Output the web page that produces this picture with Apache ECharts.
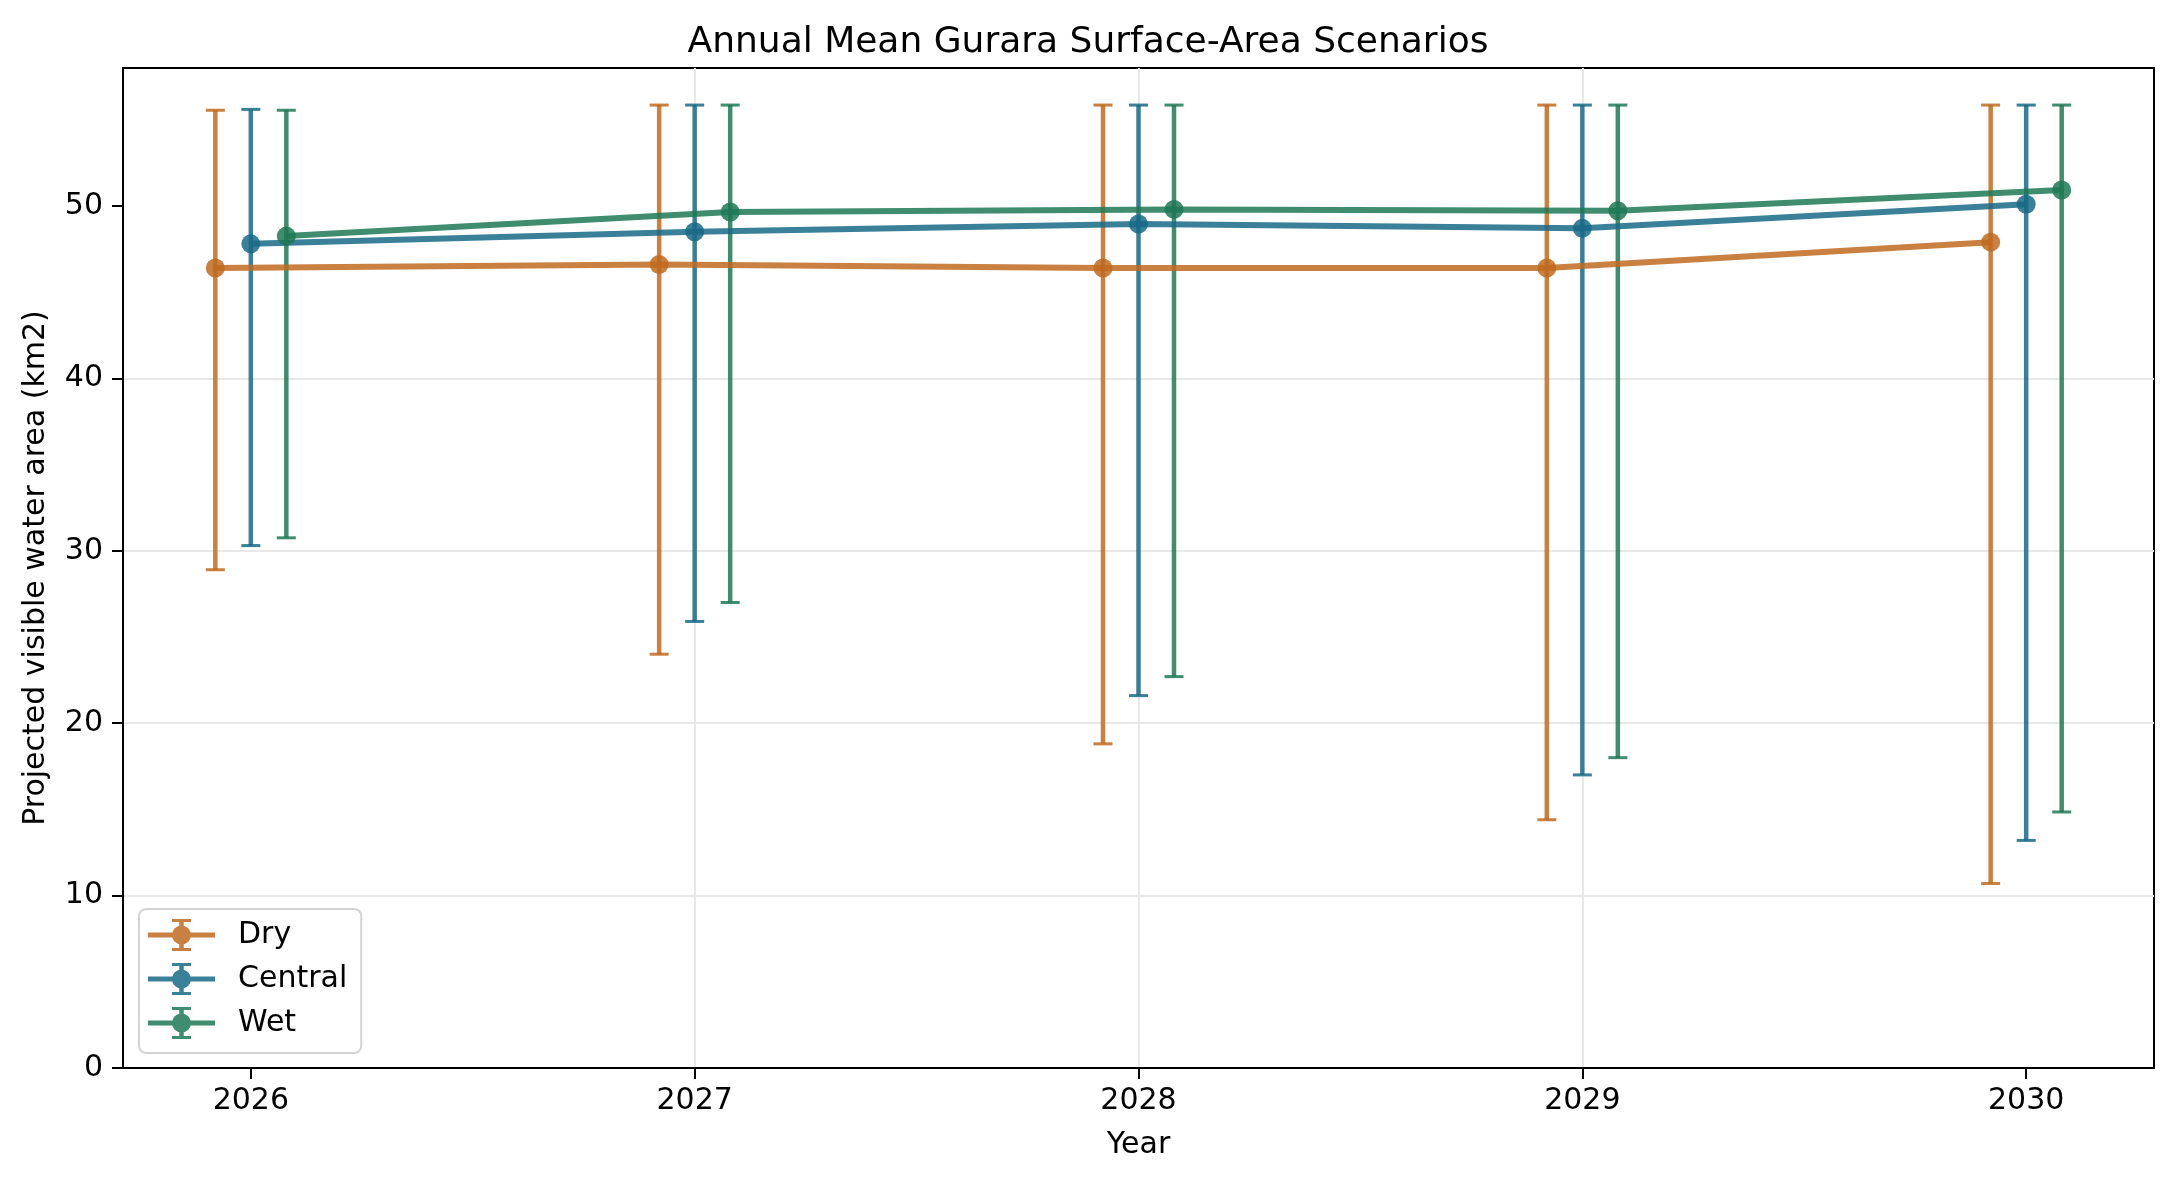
<!DOCTYPE html>
<html>
<head>
<meta charset="utf-8">
<title>Annual Mean Gurara Surface-Area Scenarios</title>
<script src="https://cdn.jsdelivr.net/npm/echarts@6/dist/echarts.min.js"></script>
<style>
  html, body { margin: 0; padding: 0; background: #fff; }
  #chart { width: 2176px; height: 1182px; }
</style>
</head>
<body>
<div id="chart"></div>
<script>
// values
const years = [2026, 2027, 2028, 2029, 2030];
const yTicks = [0, 10, 20, 30, 40, 50];

const dryMean = [46.4, 46.6, 46.4, 46.4, 47.9];
const dryLow = [28.9, 24.0, 18.8, 14.4, 10.7];
const dryHigh = [55.55, 55.85, 55.85, 55.85, 55.85];

const centralMean = [47.8, 48.5, 48.95, 48.7, 50.1];
const centralLow = [30.3, 25.9, 21.6, 17.0, 13.2];
const centralHigh = [55.6, 55.85, 55.85, 55.85, 55.85];

const wetMean = [48.25, 49.65, 49.8, 49.72, 50.92];
const wetLow = [30.75, 27.0, 22.7, 18.0, 14.85];
const wetHigh = [55.55, 55.85, 55.85, 55.85, 55.85];

const FONT = 'DejaVu Sans';
const ALPHA = 0.85;

const scenarios = [
  { name: 'Dry', color: '#c06a20', dx: -0.08, mean: dryMean, low: dryLow, high: dryHigh },
  { name: 'Central', color: '#196a87', dx: 0, mean: centralMean, low: centralLow, high: centralHigh },
  { name: 'Wet', color: '#1e7855', dx: 0.08, mean: wetMean, low: wetLow, high: wetHigh }
];

// errorbar legend glyph: line + marker + capped bar (67 x 32 box)
const errIcon = 'path://M0 13.5H67V18.5H0Z' +
  'M31.25 1H35.75V31H31.25Z' +
  'M24 0H43V3H24Z' +
  'M24 29H43V32H24Z' +
  'M24 16A9.5 9.5 0 1 1 43 16A9.5 9.5 0 1 1 24 16Z';

function errorBars(color) {
  return function (params, api) {
    const x = api.value(0);
    const lo = api.coord([x, api.value(1)]);
    const hi = api.coord([x, api.value(2)]);
    const cap = 9.5;
    const style = { stroke: color, lineWidth: 4.5, opacity: ALPHA };
    const capStyle = { stroke: color, lineWidth: 3, opacity: ALPHA };
    return {
      type: 'group',
      children: [
        { type: 'line', shape: { x1: lo[0], y1: lo[1], x2: hi[0], y2: hi[1] }, style: style },
        { type: 'line', shape: { x1: lo[0] - cap, y1: lo[1], x2: lo[0] + cap, y2: lo[1] }, style: capStyle },
        { type: 'line', shape: { x1: hi[0] - cap, y1: hi[1], x2: hi[0] + cap, y2: hi[1] }, style: capStyle }
      ]
    };
  };
}

const series = [];
scenarios.forEach(function (s) {
  const xs = years.map(function (y) { return +(y + s.dx).toFixed(3); });
  series.push({
    name: s.name,
    type: 'custom',
    renderItem: errorBars(s.color),
    itemStyle: { color: s.color },
    encode: { x: 0, y: [1, 2] },
    data: xs.map(function (x, i) { return [x, s.low[i], s.high[i]]; }),
    silent: true
  });
  series.push({
    name: s.name,
    type: 'line',
    symbol: 'circle',
    symbolSize: 19,
    showAllSymbol: true,
    color: s.color,
    lineStyle: { color: s.color, width: 6, opacity: ALPHA },
    itemStyle: { color: s.color, opacity: ALPHA },
    emphasis: { disabled: true },
    data: xs.map(function (x, i) { return [x, s.mean[i]]; })
  });
});

const chart = echarts.init(document.getElementById('chart'));
chart.setOption({
  animation: false,
  backgroundColor: '#fff',
  textStyle: { fontFamily: FONT },
  title: {
    text: 'Annual Mean Gurara Surface-Area Scenarios',
    left: 'center',
    top: 20,
    textStyle: { fontFamily: FONT, fontSize: 36, fontWeight: 'normal', color: '#000' }
  },
  grid: {
    left: 123, right: 22, top: 68, bottom: 114,
    show: true, borderColor: '#000', borderWidth: 2,
    outerBoundsMode: 'none'
  },
  legend: {
    orient: 'vertical',
    left: 139,
    top: 909,
    padding: [10, 14, 14, 9],
    itemGap: 12,
    itemWidth: 67,
    itemHeight: 32,
    backgroundColor: '#fff',
    borderColor: '#d4d4d4',
    borderWidth: 2,
    borderRadius: 7,
    textStyle: { fontFamily: FONT, fontSize: 30, color: '#000', padding: [0, 0, 0, 18] },
    data: scenarios.map(function (s) {
      return { name: s.name, icon: errIcon, itemStyle: { color: s.color, opacity: ALPHA } };
    })
  },
  xAxis: {
    type: 'value',
    min: 2025.712,
    max: 2030.288,
    name: 'Year',
    nameLocation: 'middle',
    nameGap: 62,
    nameTextStyle: { fontFamily: FONT, fontSize: 30, color: '#000' },
    axisLine: { show: true, lineStyle: { color: '#000', width: 2 } },
    axisTick: { show: true, length: 11, customValues: years, lineStyle: { color: '#000', width: 2 } },
    axisLabel: {
      customValues: years,
      margin: 18,
      fontFamily: FONT, fontSize: 30, color: '#000',
      formatter: function (v) { return String(v); }
    },
    splitLine: { show: true, showMinLine: false, showMaxLine: false, lineStyle: { color: '#e8e8e8', width: 2 } }
  },
  yAxis: {
    type: 'value',
    min: 0,
    max: 58,
    interval: 10,
    name: 'Projected visible water area (km2)',
    nameLocation: 'middle',
    nameGap: 72,
    nameTextStyle: { fontFamily: FONT, fontSize: 30, color: '#000' },
    axisLine: { show: true, lineStyle: { color: '#000', width: 2 } },
    axisTick: { show: true, length: 11, customValues: yTicks, lineStyle: { color: '#000', width: 2 } },
    axisLabel: { customValues: yTicks, margin: 20, fontFamily: FONT, fontSize: 30, color: '#000' },
    splitLine: { show: true, showMinLine: false, showMaxLine: false, lineStyle: { color: '#e8e8e8', width: 2 } }
  },
  series: series
});
</script>
</body>
</html>
